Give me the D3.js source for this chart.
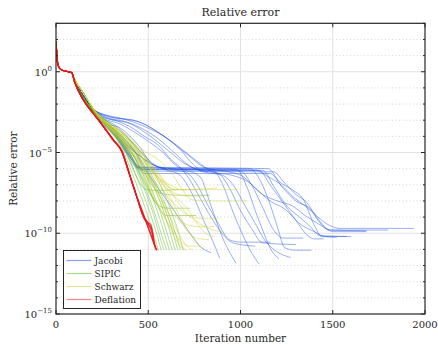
<!DOCTYPE html>
<html>
<head>
<meta charset="utf-8">
<script src="https://cdn.jsdelivr.net/npm/d3@7"></script>
<style>
  html, body { margin: 0; padding: 0; background: #fff; }
  svg { display: block; }
</style>
</head>
<body>
<svg id="chart" width="438" height="345" font-family="DejaVu Serif, serif"></svg>
<script>
// Convergence histories: points are [iteration, log10(relative error)].
const headCommon = [[0,1.9],[3,1.3],[8,0.6],[15,0.3],[30,0.12],[60,0.02],[85,-0.05]];
const headJacobi = [[100,-0.5],[148,-1.5],[200,-2.3]];
const headSIPIC = [[100,-0.55],[148,-1.6],[200,-2.4]];
const headSchwarz = [[100,-0.45],[148,-1.3],[193,-2.15]];
const headDeflation = [[100,-0.6],[148,-1.75],[200,-2.55],[238,-3.1]];

const jacobiRuns = [
  [[260,-3.0],[330,-3.8],[420,-4.9],[520,-5.7],[600,-6.1],[660,-6.3],[740,-7.6],[800,-9.2],[850,-10.5],[888,-11.55]],
  [[250,-2.9],[320,-3.3],[400,-4.2],[480,-5.2],[560,-5.9],[700,-6.1],[780,-6.5],[840,-8.3],[900,-10.2],[975,-11.85]],
  [[260,-3.1],[350,-3.5],[450,-4.6],[530,-5.8],[650,-6.05],[850,-6.1],[900,-6.9],[960,-8.7],[1020,-10.3],[1060,-11.2],[1100,-11.9]],
  [[250,-3.2],[320,-4.0],[390,-5.2],[440,-5.95],[980,-6.05],[1030,-7.0],[1080,-8.6],[1120,-9.8],[1160,-10.9],[1208,-11.6]],
  [[270,-2.8],[380,-3.1],[480,-3.6],[560,-4.2],[640,-5.0],[720,-5.8],[800,-6.2],[900,-6.4],[960,-7.0],[1020,-8.2],[1080,-9.4],[1130,-10.4],[1180,-11.0],[1272,-11.5]],
  [[260,-3.0],[330,-3.9],[400,-5.1],[460,-5.95],[1050,-6.0],[1110,-6.8],[1160,-8.2],[1200,-9.6],[1240,-10.9],[1300,-11.05],[1385,-11.05]],
  [[280,-2.9],[400,-3.2],[500,-3.9],[600,-4.8],[700,-5.7],[780,-6.1],[880,-6.3],[940,-7.2],[1000,-8.6],[1060,-9.7],[1120,-10.6],[1300,-10.7]],
  [[240,-3.0],[320,-3.9],[420,-4.9],[500,-5.6],[580,-6.0],[700,-6.2],[760,-6.9],[820,-8.2],[880,-9.4],[940,-10.4],[1000,-10.55],[1163,-10.55]],
  [[270,-3.1],[340,-3.9],[410,-5.0],[470,-6.05],[1100,-6.1],[1160,-7.0],[1230,-8.1],[1300,-9.2],[1360,-10.1],[1400,-10.35],[1452,-10.35]],
  [[250,-3.0],[320,-3.7],[390,-4.8],[450,-5.9],[1150,-6.0],[1210,-6.8],[1280,-7.3],[1340,-7.9],[1400,-9.5],[1440,-10.2],[1522,-10.25]],
  [[290,-2.8],[420,-3.0],[520,-3.5],[620,-4.3],[720,-5.2],[800,-5.9],[880,-6.1],[1000,-6.4],[1080,-7.2],[1160,-8.0],[1240,-8.5],[1320,-9.4],[1400,-9.9],[1460,-10.2],[1575,-10.2]],
  [[260,-3.2],[340,-4.2],[410,-5.4],[480,-6.15],[1180,-6.2],[1240,-6.9],[1300,-7.6],[1360,-8.1],[1420,-9.2],[1480,-9.8],[1684,-9.85]],
  [[300,-2.8],[450,-3.1],[560,-3.8],[660,-4.6],[760,-5.5],[850,-6.2],[950,-6.4],[1040,-6.8],[1120,-7.6],[1200,-8.0],[1280,-8.3],[1350,-8.9],[1420,-9.4],[1490,-9.8],[1800,-9.8]],
  [[250,-3.1],[330,-4.0],[400,-5.2],[460,-6.05],[1080,-6.1],[1150,-6.5],[1220,-7.0],[1290,-7.8],[1350,-8.3],[1420,-9.0],[1480,-9.5],[1540,-9.7],[1940,-9.7]],
  [[270,-3.3],[350,-4.4],[420,-5.6],[480,-6.3],[1160,-6.3],[1230,-7.2],[1300,-8.0],[1380,-8.5],[1440,-9.4],[1500,-9.9],[1680,-9.9]],
  [[240,-2.9],[330,-3.7],[420,-4.8],[480,-6.0],[560,-7.3],[640,-8.6],[720,-9.9],[790,-10.9],[840,-11.2]],
  [[280,-2.7],[360,-2.9],[440,-3.2],[520,-3.6],[600,-4.1],[680,-4.9],[740,-5.7],[790,-6.1],[1000,-6.15],[1060,-7.0],[1120,-8.4],[1180,-9.8],[1230,-10.3],[1340,-10.3]],
  [[260,-2.9],[340,-3.2],[420,-3.7],[500,-4.3],[580,-5.0],[650,-5.8],[700,-6.05],[1120,-6.1],[1180,-7.1],[1250,-8.3],[1320,-9.0],[1380,-9.6],[1430,-10.15],[1600,-10.2]],
  [[250,-2.8],[320,-3.0],[400,-3.4],[480,-4.0],[560,-4.6],[620,-5.4],[680,-6.0],[720,-6.6],[780,-7.8],[840,-9.0],[900,-10.0],[960,-10.6],[1080,-10.8]]
];

const sipicRuns = [
  [[250,-3.1],[310,-3.9],[360,-4.8],[410,-6.2],[460,-7.7],[500,-9.0],[530,-10.1],[555,-11.05]],
  [[250,-3.1],[320,-4.0],[380,-5.0],[430,-6.3],[480,-7.8],[520,-9.1],[550,-10.2],[570,-11.05]],
  [[260,-3.2],[330,-4.0],[390,-4.9],[440,-6.2],[490,-7.6],[530,-8.9],[560,-10.1],[585,-11.05]],
  [[260,-3.1],[340,-4.1],[400,-5.1],[455,-6.4],[505,-7.8],[545,-9.1],[575,-10.2],[600,-11.05]],
  [[270,-3.2],[350,-4.2],[410,-5.0],[470,-6.3],[520,-7.7],[560,-9.0],[590,-10.1],[615,-11.05]],
  [[260,-3.0],[350,-3.9],[420,-4.9],[480,-6.2],[530,-7.6],[575,-9.0],[605,-10.1],[630,-11.05]],
  [[270,-3.1],[360,-4.1],[430,-5.0],[490,-6.1],[545,-7.5],[590,-8.9],[620,-10.0],[645,-11.05]],
  [[280,-3.3],[370,-4.2],[440,-5.1],[500,-6.2],[560,-7.6],[600,-8.8],[635,-10.0],[660,-11.05]],
  [[270,-3.0],[370,-3.9],[450,-5.0],[515,-6.3],[570,-7.6],[615,-8.9],[650,-10.1],[675,-11.05]],
  [[280,-3.1],[380,-4.0],[460,-5.0],[530,-6.2],[585,-7.5],[630,-8.8],[665,-10.0],[690,-11.05]],
  [[270,-3.2],[360,-4.3],[430,-5.4],[490,-6.5],[550,-7.4],[600,-7.6],[680,-7.65],[834,-7.65]],
  [[260,-3.2],[350,-4.3],[420,-5.6],[480,-6.9],[540,-8.1],[600,-8.45],[726,-8.45]],
  [[270,-3.3],[360,-4.4],[430,-5.7],[490,-7.0],[550,-8.3],[600,-8.9],[760,-8.9]],
  [[250,-3.1],[330,-4.1],[390,-5.3],[440,-6.6],[490,-7.3],[560,-7.35],[660,-7.3]]
];

const schwarzRuns = [
  [[240,-2.9],[300,-3.4],[383,-3.9],[472,-4.85],[560,-5.5],[620,-6.2],[680,-7.2],[730,-7.9],[800,-8.0],[1040,-8.0]],
  [[240,-2.8],[310,-3.5],[390,-4.2],[460,-5.0],[530,-5.9],[590,-6.9],[640,-7.3],[700,-7.3],[872,-7.2]],
  [[250,-3.0],[330,-3.8],[410,-4.6],[480,-5.5],[540,-6.6],[600,-7.7],[650,-8.8],[700,-9.7],[760,-10.3],[830,-10.4]],
  [[250,-3.0],[320,-3.8],[400,-4.8],[460,-5.7],[520,-6.8],[570,-7.9],[620,-9.0],[670,-10.1],[710,-10.8],[740,-11.05]],
  [[250,-3.1],[330,-4.0],[410,-5.0],[470,-6.0],[530,-7.1],[590,-8.2],[650,-9.0],[720,-9.5],[800,-9.6],[860,-9.6]],
  [[260,-3.1],[340,-4.0],[420,-5.1],[490,-6.1],[550,-7.0],[610,-7.8],[670,-8.5],[740,-9.0],[810,-9.1],[880,-9.1]],
  [[260,-3.2],[340,-4.2],[410,-5.3],[470,-6.4],[520,-7.6],[570,-8.6],[620,-9.6],[670,-10.4],[720,-10.8],[780,-10.8]],
  [[270,-3.1],[360,-3.9],[440,-4.9],[510,-5.9],[570,-6.8],[630,-7.6],[700,-8.3],[760,-9.3],[810,-10.0],[860,-10.2]],
  [[260,-3.0],[350,-3.7],[430,-4.5],[500,-5.5],[560,-6.6],[620,-7.8],[670,-8.9],[720,-9.9],[760,-10.6],[800,-11.0]],
  [[250,-3.0],[320,-3.7],[390,-4.6],[450,-5.6],[510,-6.7],[560,-7.9],[610,-9.1],[650,-10.1],[690,-10.9],[710,-11.05]],
  [[270,-3.2],[360,-4.1],[440,-5.0],[510,-6.0],[570,-6.9],[640,-7.5],[720,-7.7],[800,-7.7]],
  [[260,-3.0],[340,-3.9],[420,-4.9],[490,-5.8],[550,-6.5],[610,-7.1],[660,-7.3],[760,-7.3]],
  [[280,-3.2],[370,-4.0],[450,-4.9],[520,-5.8],[590,-6.8],[650,-7.9],[710,-8.8],[780,-9.4],[850,-9.8],[900,-9.9]],
  [[250,-3.0],[330,-3.9],[400,-4.9],[460,-6.0],[510,-7.2],[560,-8.4],[610,-9.5],[650,-10.4],[680,-10.9],[700,-11.05]],
  [[270,-3.1],[350,-3.9],[430,-4.8],[500,-5.8],[560,-6.6],[620,-7.0],[680,-7.3],[980,-7.3]]
];

const deflationRuns = [
  [[265,-3.5],[310,-4.2],[356,-4.9],[400,-6.4],[437,-7.7],[480,-9.0],[520,-10.3],[545,-11.05]],
  [[265,-3.5],[310,-4.2],[356,-4.9],[400,-6.4],[437,-7.7],[475,-9.0],[500,-9.4],[525,-10.2],[540,-11.0]],
  [[265,-3.5],[310,-4.25],[356,-4.95],[400,-6.45],[437,-7.75],[478,-9.1],[505,-9.5],[520,-9.8],[535,-10.8]],
  [[265,-3.55],[310,-4.2],[356,-4.9],[400,-6.4],[437,-7.7],[480,-9.05],[515,-10.1],[530,-10.6],[548,-11.05]],
  [[265,-3.5],[310,-4.2],[356,-4.9],[400,-6.4],[437,-7.7],[472,-8.9],[495,-9.3],[515,-9.5],[528,-10.4]]
];

const methods = ["Jacobi", "SIPIC", "Schwarz", "Deflation"];
const methodColors = ["#1f4fe0", "#5cb520", "#cfcf2a", "#e8141c"];
const legendColors = ["#8aa2ee", "#a6d88a", "#e4e48e", "#f2898d"];
const methodRuns = [jacobiRuns, sipicRuns, schwarzRuns, deflationRuns];
const methodHeads = [headJacobi, headSIPIC, headSchwarz, headDeflation];

const xTicks = [0, 500, 1000, 1500, 2000];
const yMajorExp = [0, -5, -10, -15];

const svg = d3.select("#chart");
const margin = {left: 56, right: 13, top: 23.3, bottom: 31};
const W = 438, H = 345;
const x = d3.scaleLinear().domain([0, 2000]).range([margin.left, W - margin.right]);
const y = d3.scaleLog().domain([1e-15, 1e3]).range([H - margin.bottom, margin.top]);
const x0 = x.range()[0], x1 = x.range()[1], yTop = y.range()[1], yBot = y.range()[0];
const ink = "#262626";

// grid
const grid = svg.append("g");
d3.range(-14, 3).forEach(e => {
  const major = yMajorExp.includes(e);
  grid.append("line")
    .attr("x1", x0).attr("x2", x1)
    .attr("y1", y(Math.pow(10, e))).attr("y2", y(Math.pow(10, e)))
    .attr("stroke", major ? "#e2e2e2" : "#cdcdcd")
    .attr("stroke-width", major ? 1 : 0.8)
    .attr("stroke-dasharray", major ? null : "1,2.5");
});
xTicks.slice(1, -1).forEach(t => {
  grid.append("line")
    .attr("x1", x(t)).attr("x2", x(t))
    .attr("y1", yTop).attr("y2", yBot)
    .attr("stroke", "#e2e2e2").attr("stroke-width", 1);
});

// curves
svg.append("clipPath").attr("id", "plotclip")
  .append("rect").attr("x", x0).attr("y", yTop).attr("width", x1 - x0).attr("height", yBot - yTop);

const line = d3.line()
  .x(d => x(d[0]))
  .y(d => y(Math.pow(10, d[1])))
  .curve(d3.curveMonotoneX);

const curves = svg.append("g").attr("clip-path", "url(#plotclip)");
methods.forEach((m, i) => {
  const g = curves.append("g").attr("class", "method-" + m);
  methodRuns[i].forEach(run => {
    const pts = headCommon.concat(methodHeads[i], run);
    g.append("path")
      .attr("d", line(pts))
      .attr("fill", "none")
      .attr("stroke", methodColors[i])
      .attr("stroke-width", m === "Deflation" ? 1.3 : 0.9)
      .attr("stroke-opacity", m === "Deflation" ? 0.75 : 0.5);
  });
});

// frame and ticks
const axes = svg.append("g");
axes.append("rect")
  .attr("x", x0).attr("y", yTop).attr("width", x1 - x0).attr("height", yBot - yTop)
  .attr("fill", "none").attr("stroke", ink).attr("stroke-width", 1.2);

xTicks.forEach(t => {
  axes.append("line").attr("x1", x(t)).attr("x2", x(t)).attr("y1", yBot).attr("y2", yBot - 4).attr("stroke", ink);
  axes.append("line").attr("x1", x(t)).attr("x2", x(t)).attr("y1", yTop).attr("y2", yTop + 4).attr("stroke", ink);
  axes.append("text")
    .attr("x", x(t)).attr("y", yBot + 14)
    .attr("text-anchor", "middle").attr("font-size", 10).attr("fill", ink)
    .text(t);
});

d3.range(-15, 4).forEach(e => {
  const yy = y(Math.pow(10, e));
  const len = yMajorExp.includes(e) ? 4 : 2;
  axes.append("line").attr("x1", x0).attr("x2", x0 + len).attr("y1", yy).attr("y2", yy).attr("stroke", ink);
  axes.append("line").attr("x1", x1).attr("x2", x1 - len).attr("y1", yy).attr("y2", yy).attr("stroke", ink);
});

yMajorExp.forEach(e => {
  const t = axes.append("text")
    .attr("x", x0 - 4).attr("y", y(Math.pow(10, e)) + 4)
    .attr("text-anchor", "end").attr("font-size", 10).attr("fill", ink);
  t.append("tspan").text("10");
  t.append("tspan").attr("dy", -5).attr("font-size", 7).text(e === 0 ? "0" : "\u2212" + (-e));
});

// titles
svg.append("text")
  .attr("x", (x0 + x1) / 2).attr("y", 16)
  .attr("text-anchor", "middle").attr("font-size", 11).attr("fill", ink)
  .text("Relative error");
svg.append("text")
  .attr("x", (x0 + x1) / 2).attr("y", 342)
  .attr("text-anchor", "middle").attr("font-size", 10.5).attr("fill", ink)
  .text("Iteration number");
svg.append("text")
  .attr("transform", `translate(17,${(yTop + yBot) / 2}) rotate(-90)`)
  .attr("text-anchor", "middle").attr("font-size", 10.5).attr("fill", ink)
  .text("Relative error");

// legend
const lg = svg.append("g").attr("transform", "translate(63.5,250.5)");
lg.append("rect").attr("width", 77).attr("height", 58)
  .attr("fill", "#fff").attr("stroke", ink).attr("stroke-width", 1);
methods.forEach((m, i) => {
  const yy = 10 + i * 13;
  lg.append("line").attr("x1", 3).attr("x2", 28).attr("y1", yy).attr("y2", yy)
    .attr("stroke", legendColors[i]).attr("stroke-width", 1.2);
  lg.append("text").attr("x", 31).attr("y", yy + 3.5).attr("font-size", 9).attr("fill", ink).text(m);
});
</script>
</body>
</html>
